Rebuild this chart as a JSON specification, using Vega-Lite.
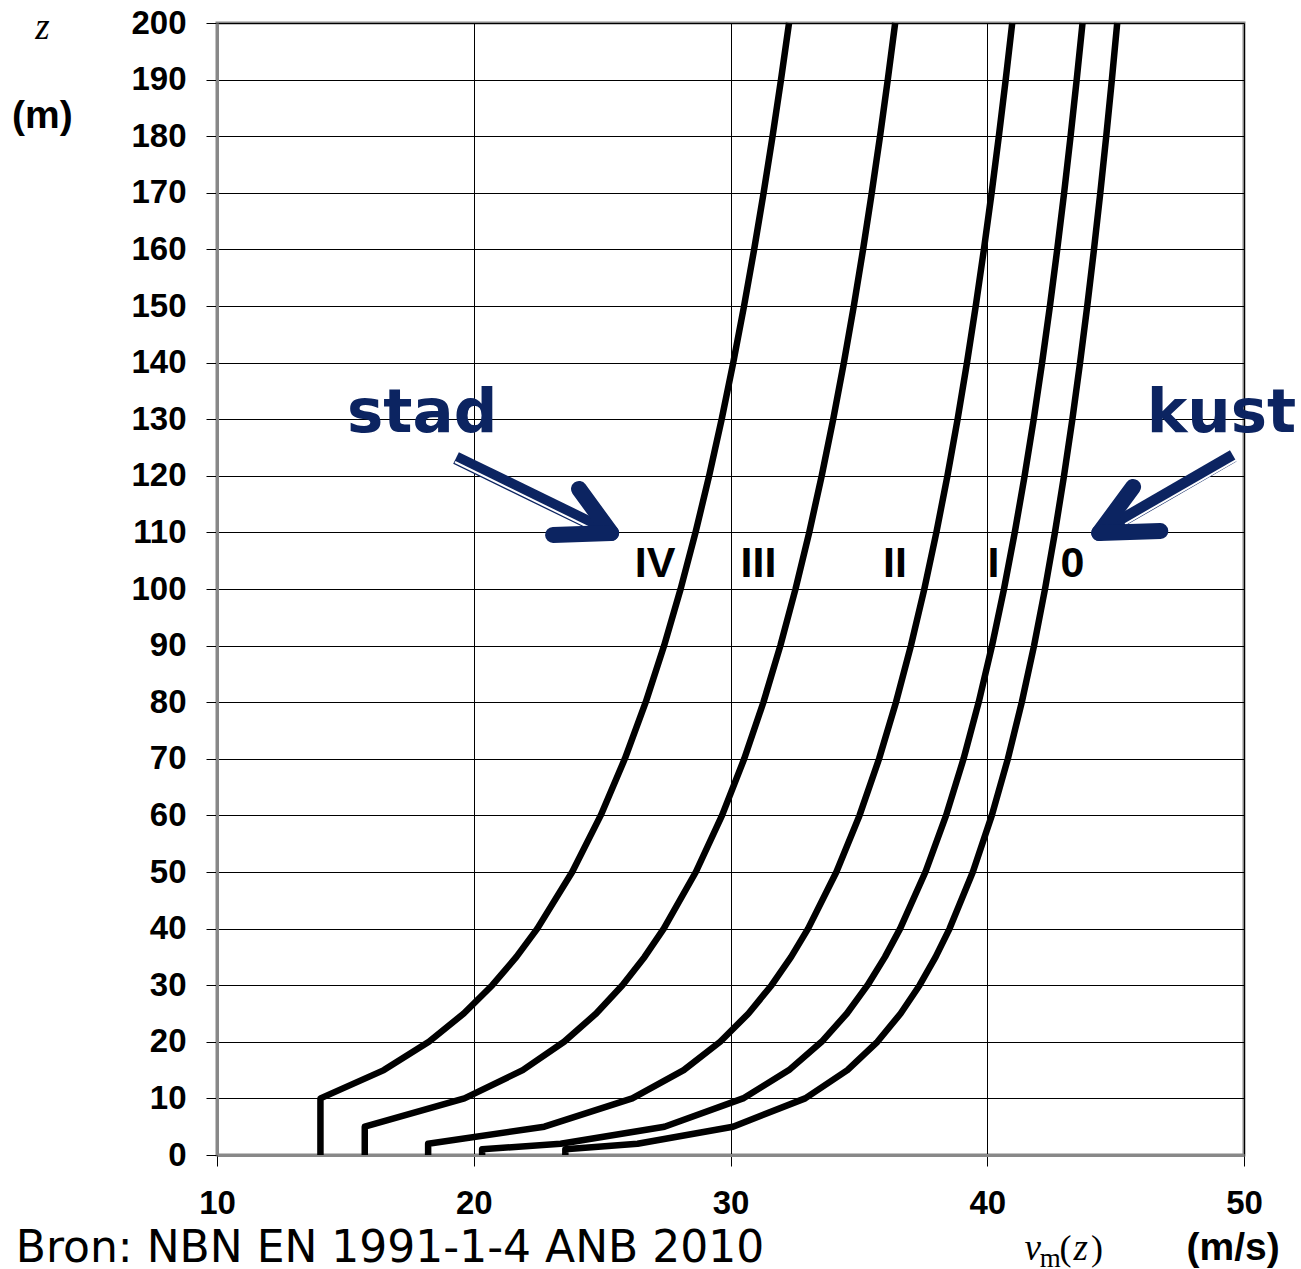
{
  "$schema": "https://vega.github.io/schema/vega-lite/v6.json",
  "autosize": {"type": "none"},
  "padding": {"left": 217, "top": 23, "right": 57, "bottom": 114},
  "width": 1027,
  "height": 1132,
  "background": "white",
  "datasets": {
    "curves": [
      {"c":"0","z":0,"v":23.567},{"c":"0","z":1,"v":23.567},{"c":"0","z":2,"v":26.379},{"c":"0","z":5,"v":30.097},{"c":"0","z":10,"v":32.909},{"c":"0","z":15,"v":34.554},{"c":"0","z":20,"v":35.721},{"c":"0","z":25,"v":36.626},{"c":"0","z":30,"v":37.366},{"c":"0","z":35,"v":37.991},{"c":"0","z":40,"v":38.533},{"c":"0","z":50,"v":39.438},{"c":"0","z":60,"v":40.178},{"c":"0","z":70,"v":40.803},{"c":"0","z":80,"v":41.345},{"c":"0","z":90,"v":41.823},{"c":"0","z":100,"v":42.25},{"c":"0","z":110,"v":42.637},{"c":"0","z":120,"v":42.99},{"c":"0","z":130,"v":43.315},{"c":"0","z":140,"v":43.615},{"c":"0","z":150,"v":43.895},{"c":"0","z":160,"v":44.157},{"c":"0","z":170,"v":44.403},{"c":"0","z":180,"v":44.635},{"c":"0","z":190,"v":44.854},{"c":"0","z":200,"v":45.062},
      {"c":"I","z":0,"v":20.326},{"c":"I","z":1,"v":20.326},{"c":"I","z":2,"v":23.385},{"c":"I","z":5,"v":27.429},{"c":"I","z":10,"v":30.489},{"c":"I","z":15,"v":32.278},{"c":"I","z":20,"v":33.548},{"c":"I","z":25,"v":34.533},{"c":"I","z":30,"v":35.338},{"c":"I","z":35,"v":36.018},{"c":"I","z":40,"v":36.607},{"c":"I","z":50,"v":37.592},{"c":"I","z":60,"v":38.397},{"c":"I","z":70,"v":39.077},{"c":"I","z":80,"v":39.667},{"c":"I","z":90,"v":40.187},{"c":"I","z":100,"v":40.652},{"c":"I","z":110,"v":41.072},{"c":"I","z":120,"v":41.456},{"c":"I","z":130,"v":41.81},{"c":"I","z":140,"v":42.137},{"c":"I","z":150,"v":42.441},{"c":"I","z":160,"v":42.726},{"c":"I","z":170,"v":42.994},{"c":"I","z":180,"v":43.246},{"c":"I","z":190,"v":43.484},{"c":"I","z":200,"v":43.711},
      {"c":"II","z":0,"v":18.223},{"c":"II","z":2,"v":18.223},{"c":"II","z":5,"v":22.75},{"c":"II","z":10,"v":26.174},{"c":"II","z":15,"v":28.177},{"c":"II","z":20,"v":29.598},{"c":"II","z":25,"v":30.7},{"c":"II","z":30,"v":31.601},{"c":"II","z":35,"v":32.362},{"c":"II","z":40,"v":33.022},{"c":"II","z":50,"v":34.124},{"c":"II","z":60,"v":35.025},{"c":"II","z":70,"v":35.787},{"c":"II","z":80,"v":36.446},{"c":"II","z":90,"v":37.028},{"c":"II","z":100,"v":37.549},{"c":"II","z":110,"v":38.019},{"c":"II","z":120,"v":38.449},{"c":"II","z":130,"v":38.845},{"c":"II","z":140,"v":39.211},{"c":"II","z":150,"v":39.552},{"c":"II","z":160,"v":39.87},{"c":"II","z":170,"v":40.17},{"c":"II","z":180,"v":40.452},{"c":"II","z":190,"v":40.719},{"c":"II","z":200,"v":40.973},
      {"c":"III","z":0,"v":15.755},{"c":"III","z":5,"v":15.755},{"c":"III","z":10,"v":19.637},{"c":"III","z":15,"v":21.908},{"c":"III","z":20,"v":23.519},{"c":"III","z":25,"v":24.768},{"c":"III","z":30,"v":25.79},{"c":"III","z":35,"v":26.653},{"c":"III","z":40,"v":27.401},{"c":"III","z":50,"v":28.65},{"c":"III","z":60,"v":29.671},{"c":"III","z":70,"v":30.534},{"c":"III","z":80,"v":31.282},{"c":"III","z":90,"v":31.942},{"c":"III","z":100,"v":32.532},{"c":"III","z":110,"v":33.066},{"c":"III","z":120,"v":33.553},{"c":"III","z":130,"v":34.001},{"c":"III","z":140,"v":34.416},{"c":"III","z":150,"v":34.803},{"c":"III","z":160,"v":35.164},{"c":"III","z":170,"v":35.503},{"c":"III","z":180,"v":35.824},{"c":"III","z":190,"v":36.126},{"c":"III","z":200,"v":36.414},
      {"c":"IV","z":0,"v":14.029},{"c":"IV","z":10,"v":14.029},{"c":"IV","z":15,"v":16.499},{"c":"IV","z":20,"v":18.252},{"c":"IV","z":25,"v":19.611},{"c":"IV","z":30,"v":20.722},{"c":"IV","z":35,"v":21.661},{"c":"IV","z":40,"v":22.475},{"c":"IV","z":50,"v":23.834},{"c":"IV","z":60,"v":24.945},{"c":"IV","z":70,"v":25.884},{"c":"IV","z":80,"v":26.698},{"c":"IV","z":90,"v":27.415},{"c":"IV","z":100,"v":28.057},{"c":"IV","z":110,"v":28.638},{"c":"IV","z":120,"v":29.168},{"c":"IV","z":130,"v":29.656},{"c":"IV","z":140,"v":30.107},{"c":"IV","z":150,"v":30.528},{"c":"IV","z":160,"v":30.921},{"c":"IV","z":170,"v":31.29},{"c":"IV","z":180,"v":31.638},{"c":"IV","z":190,"v":31.968},{"c":"IV","z":200,"v":32.28}
    ],
    "numerals": [
      {"t":"IV","x":27.06,"y":102.2},
      {"t":"III","x":31.09,"y":102.2},
      {"t":"II","x":36.41,"y":102.2},
      {"t":"I","x":40.24,"y":102.2},
      {"t":"0","x":43.32,"y":102.2}
    ],
    "callouts": [
      {"t":"stad","x":17.99,"y":127.8},
      {"t":"kust","x":49.12,"y":127.8}
    ],
    "shafts": [
      {"x":19.31,"y":123.14,"x2":25.15,"y2":110.25},
      {"x":49.58,"y":123.5,"x2":44.52,"y2":110.25}
    ],
    "shaftLines": [
      {"x":19.27,"y":122.44,"x2":24.61,"y2":110.6},
      {"x":49.7,"y":122.79,"x2":45.37,"y2":111.48}
    ],
    "heads": [
      {"x":24.1,"y":117.67,"x2":25.35,"y2":109.89},
      {"x":23.09,"y":109.54,"x2":25.35,"y2":109.89},
      {"x":45.68,"y":118.02,"x2":44.36,"y2":109.89},
      {"x":46.74,"y":110.25,"x2":44.36,"y2":109.89}
    ],
    "units": [
      {"t":"(m)","x":3.2,"y":181.4},
      {"t":"(m/s)","x":49.58,"y":-18.55}
    ],
    "italics": [
      {"t":"z","x":3.2,"y":197.2},
      {"t":"v","x":41.77,"y":-18.55},
      {"t":"z","x":43.64,"y":-18.55}
    ],
    "uprights": [
      {"t":"(","x":43.05,"y":-18.55},
      {"t":")","x":44.27,"y":-18.55}
    ],
    "subs": [
      {"t":"m","x":42.45,"y":-19.73}
    ],
    "source": [
      {"t":"Bron: NBN EN 1991-1-4 ANB 2010","x":2.16,"y":-18.85}
    ]
  },
  "layer": [
    {
      "data": {"name": "curves"},
      "mark": {"type": "line", "color": "#000000", "strokeWidth": 6.5, "strokeJoin": "round"},
      "encoding": {
        "x": {"field": "v", "type": "quantitative", "title": null,
              "scale": {"domain": [10, 50], "nice": false, "zero": false},
              "axis": {"title": null, "values": [10, 20, 30, 40, 50], "labelFlush": false, "labelPadding": 21, "labelOverlap": false}},
        "y": {"field": "z", "type": "quantitative", "title": null,
              "scale": {"domain": [0, 200], "nice": false, "zero": false},
              "axis": {"title": null, "values": [0,10,20,30,40,50,60,70,80,90,100,110,120,130,140,150,160,170,180,190,200], "labelFlush": false, "labelPadding": 20, "labelOverlap": false}},
        "detail": {"field": "c"},
        "order": {"field": "z", "type": "quantitative"}
      }
    },
    {
      "data": {"name": "numerals"},
      "mark": {"type": "text", "font": "Liberation Sans", "fontWeight": "bold", "fontSize": 43, "color": "#000000", "align": "center", "baseline": "alphabetic"},
      "encoding": {
        "x": {"field": "x", "type": "quantitative", "title": null},
        "y": {"field": "y", "type": "quantitative", "title": null},
        "text": {"field": "t"}
      }
    },
    {
      "data": {"name": "shafts"},
      "mark": {"type": "rule", "color": "#0c2461", "strokeWidth": 13, "strokeCap": "butt"},
      "encoding": {
        "x": {"field": "x", "type": "quantitative", "title": null},
        "y": {"field": "y", "type": "quantitative", "title": null},
        "x2": {"field": "x2"},
        "y2": {"field": "y2"}
      }
    },
    {
      "data": {"name": "shaftLines"},
      "mark": {"type": "rule", "color": "#ffffff", "strokeWidth": 2, "strokeCap": "butt"},
      "encoding": {
        "x": {"field": "x", "type": "quantitative", "title": null},
        "y": {"field": "y", "type": "quantitative", "title": null},
        "x2": {"field": "x2"},
        "y2": {"field": "y2"}
      }
    },
    {
      "data": {"name": "heads"},
      "mark": {"type": "rule", "color": "#0c2461", "strokeWidth": 16, "strokeCap": "round"},
      "encoding": {
        "x": {"field": "x", "type": "quantitative", "title": null},
        "y": {"field": "y", "type": "quantitative", "title": null},
        "x2": {"field": "x2"},
        "y2": {"field": "y2"}
      }
    },
    {
      "data": {"name": "callouts"},
      "mark": {"type": "text", "font": "DejaVu Sans", "fontWeight": "bold", "fontSize": 61, "color": "#0c2461", "align": "center", "baseline": "alphabetic"},
      "encoding": {
        "x": {"field": "x", "type": "quantitative", "title": null},
        "y": {"field": "y", "type": "quantitative", "title": null},
        "text": {"field": "t"}
      }
    },
    {
      "data": {"name": "units"},
      "mark": {"type": "text", "font": "Liberation Sans", "fontWeight": "bold", "fontSize": 39, "color": "#000000", "align": "center", "baseline": "alphabetic"},
      "encoding": {
        "x": {"field": "x", "type": "quantitative", "title": null},
        "y": {"field": "y", "type": "quantitative", "title": null},
        "text": {"field": "t"}
      }
    },
    {
      "data": {"name": "italics"},
      "mark": {"type": "text", "font": "Liberation Serif", "fontStyle": "italic", "fontSize": 37, "color": "#000000", "align": "center", "baseline": "alphabetic"},
      "encoding": {
        "x": {"field": "x", "type": "quantitative", "title": null},
        "y": {"field": "y", "type": "quantitative", "title": null},
        "text": {"field": "t"}
      }
    },
    {
      "data": {"name": "uprights"},
      "mark": {"type": "text", "font": "Liberation Serif", "fontSize": 36, "color": "#000000", "align": "center", "baseline": "alphabetic"},
      "encoding": {
        "x": {"field": "x", "type": "quantitative", "title": null},
        "y": {"field": "y", "type": "quantitative", "title": null},
        "text": {"field": "t"}
      }
    },
    {
      "data": {"name": "subs"},
      "mark": {"type": "text", "font": "Liberation Serif", "fontSize": 27, "color": "#000000", "align": "center", "baseline": "alphabetic"},
      "encoding": {
        "x": {"field": "x", "type": "quantitative", "title": null},
        "y": {"field": "y", "type": "quantitative", "title": null},
        "text": {"field": "t"}
      }
    },
    {
      "data": {"name": "source"},
      "mark": {"type": "text", "font": "DejaVu Sans", "fontSize": 44, "color": "#000000", "align": "left", "baseline": "alphabetic"},
      "encoding": {
        "x": {"field": "x", "type": "quantitative", "title": null},
        "y": {"field": "y", "type": "quantitative", "title": null},
        "text": {"field": "t"}
      }
    }
  ],
  "config": {
    "view": {"stroke": "#888888", "strokeWidth": 3},
    "axis": {
      "domainColor": "#888888", "domainWidth": 3,
      "grid": true, "gridColor": "#000000", "gridWidth": 1, "gridOpacity": 1,
      "tickColor": "#000000", "tickWidth": 1, "tickSize": 11,
      "labelFont": "Liberation Sans", "labelFontSize": 33, "labelFontWeight": "bold", "labelColor": "#000000"
    }
  }
}
